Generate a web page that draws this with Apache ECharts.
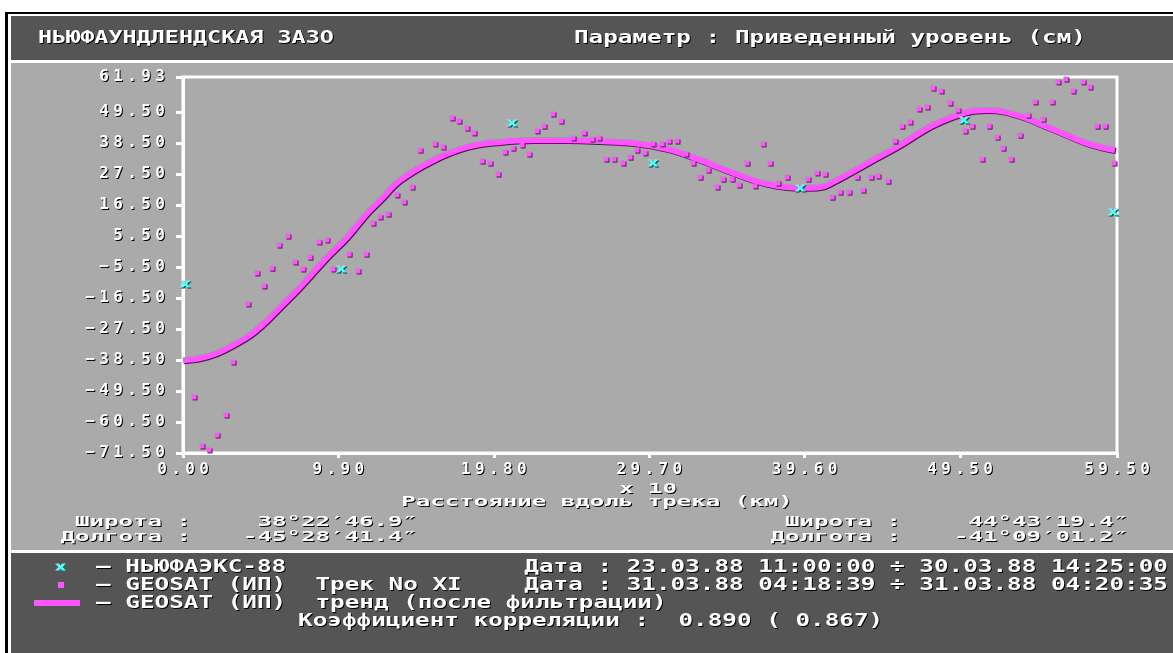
<!DOCTYPE html>
<html>
<head>
<meta charset="utf-8">
<script src="https://cdn.jsdelivr.net/npm/echarts@6/dist/echarts.min.js"></script>
<style>
  body { margin: 0; background: #fff; }
  #chart { width: 1173px; height: 653px; }
</style>
</head>
<body>
<div id="chart"></div>
<script>
// trend after filtering (x10 km, cm)
var trendDist = [0, 1.1, 2.17, 3.19, 4.27, 5.35, 6.18, 7.45, 9.17, 10.44, 11.72, 12.55, 13.82, 15.93, 18.09, 20.19, 22.3, 24.46, 26.57, 28.67,
  30.83, 32.94, 35.04, 37.2, 39.31, 40.58, 41.41, 43.58, 45.68, 47.78, 49.95, 51.22, 53.13, 55.23, 57.34, 58.42, 59.37];
var trendLevel = [-38.6, -37.8, -36.0, -33.2, -29.6, -24.4, -19.7, -12.6, -2.0, 5.1, 13.6, 18.2, 25.3, 32.4, 37.1, 38.9, 39.6, 39.6, 39.2, 38.5,
  36.4, 32.5, 27.9, 24.0, 22.6, 22.9, 24.7, 31.4, 37.8, 44.9, 49.5, 50.2, 48.4, 43.8, 38.9, 37.1, 36.0];

// GEOSAT track XI samples
var pointDist = [0.70, 1.21, 1.66, 2.17, 2.74, 3.19, 4.14, 4.71, 5.16, 5.67,
  6.12, 6.69, 7.14, 7.64, 8.09, 8.66, 9.17, 9.56, 10.58, 11.15,
  11.66, 12.10, 12.55, 13.06, 13.63, 14.08, 14.59, 15.10, 16.05, 16.56,
  17.14, 17.58, 18.09, 18.54, 19.05, 19.56, 20.07, 20.51, 21.02, 21.60,
  22.04, 22.55, 23.00, 23.57, 24.08, 24.85, 25.55, 26.06, 26.50, 26.95,
  27.46, 28.03, 28.48, 28.92, 29.43, 29.94, 30.52, 30.96, 31.47, 32.04,
  32.49, 32.94, 33.45, 34.02, 34.40, 34.98, 35.42, 35.93, 36.44, 36.95,
  37.40, 37.91, 38.48, 39.82, 40.39, 40.90, 41.35, 41.86, 42.43, 42.94,
  43.32, 43.83, 44.28, 44.91, 45.36, 45.80, 46.31, 46.89, 47.40, 47.78,
  48.29, 48.86, 49.37, 49.82, 50.26, 50.90, 51.35, 51.86, 52.24, 52.75,
  53.32, 53.83, 54.28, 54.79, 55.36, 55.74, 56.25, 56.70, 57.34, 57.78,
  58.23, 58.74, 59.31];
var pointLevel = [-51.6, -69.0, -70.4, -65.1, -58.0, -39.2, -18.6, -7.6, -12.2, -5.9,
  2.3, 5.5, -3.7, -6.2, -2.0, 3.4, 4.1, -6.2, -0.9, -6.9,
  -0.9, 10.1, 12.3, 13.3, 20.1, 17.6, 22.9, 36.0, 38.2, 37.1,
  47.4, 46.3, 43.8, 42.1, 32.1, 31.4, 27.5, 35.3, 36.7, 37.8,
  34.6, 42.8, 44.5, 48.8, 46.3, 40.3, 42.1, 39.9, 40.3, 32.8,
  32.8, 31.4, 33.5, 36.0, 35.0, 38.2, 38.2, 39.2, 39.2, 34.6,
  31.4, 26.4, 28.9, 22.9, 25.7, 25.7, 23.6, 31.4, 23.3, 38.2,
  31.4, 24.3, 26.4, 25.7, 27.9, 27.5, 19.3, 21.1, 21.1, 26.4,
  21.8, 26.4, 26.8, 25.0, 39.2, 44.5, 46.0, 50.6, 51.3, 58.0,
  57.0, 52.7, 50.2, 42.8, 44.5, 32.8, 44.5, 40.6, 36.7, 32.8,
  41.3, 48.4, 53.1, 47.0, 53.1, 60.2, 61.2, 57.0, 60.2, 58.4,
  44.5, 44.5, 31.4];

// НЬЮФАЭКС-88 ship stations
var shipDist = [0.13, 10.07, 20.96, 29.94, 39.31, 49.75, 59.25];
var shipLevel = [-11.5, -6.2, 45.6, 31.4, 22.5, 46.7, 14.0];

var xTicks = [0, 9.9, 19.8, 29.7, 39.6, 49.5, 59.5];
var yTicks = [-71.5, -60.5, -49.5, -38.5, -27.5, -16.5, -5.5, 5.5, 16.5, 27.5, 38.5, 49.5, 61.93];

var MONO = 'DejaVu Sans Mono';
var MAGENTA = '#ff55ff', CYAN = '#55ffff';
var CROSS = 'path://M0 0H4L5.5 2L7 0H11L7.5 3.5L11 7H7L5.5 5L4 7H0L3.5 3.5Z';
var crossPts = [[0, 0], [4, 0], [5.5, 2], [7, 0], [11, 0], [7.5, 3.5], [11, 7], [7, 7], [5.5, 5], [4, 7], [0, 7], [3.5, 3.5]];

function pairs(xs, ys) {
  return xs.map(function (x, i) { return [x, ys[i]]; });
}

// every char in its own fixed cell, like the old bitmap font
function cells(v) {
  return v.toFixed(2).replace('-', '\u2212').split('').map(function (ch) {
    return '{c|' + ch + '}';
  }).join('');
}

var cellStyle = {
  width: 14, align: 'center', color: '#fff',
  fontFamily: MONO, fontWeight: 'bold', fontSize: 16,
  textShadowColor: '#000', textShadowBlur: 0.5, textShadowOffsetX: 1, textShadowOffsetY: 1
};

function txt(text, x, y, opt) {
  opt = opt || {};
  var size = opt.size || 18;
  var align = opt.align || 'left';
  return {
    type: 'text', x: x, y: y, z: 100,
    scaleX: opt.sx || 1.35,
    style: {
      text: text,
      font: 'bold ' + size + 'px "' + MONO + '"',
      fill: opt.color || '#fff',
      align: align, textAlign: align,
      verticalAlign: 'middle', textVerticalAlign: 'middle',
      textShadowColor: '#000', textShadowBlur: 0.5, textShadowOffsetX: 1, textShadowOffsetY: 1
    }
  };
}

function box(x, y, w, h, fill, z) {
  return { type: 'rect', z: z || -100, shape: { x: x, y: y, width: w, height: h }, style: { fill: fill } };
}

var rows = [567, 585, 603, 621];
var sm = function (align) { return { size: 14, sx: 1.72, align: align }; };

var graphics = [
  box(5, 12, 1200, 700, '#000'),
  box(8, 14, 1200, 700, '#fff'),
  box(11, 16, 1200, 44, '#555555'),
  box(11, 63, 1200, 487, '#aaaaaa'),
  box(11, 553, 1200, 120, '#555555'),

  txt('НЬЮФАУНДЛЕНДСКАЯ ЗАЗО', 38, 38, { sx: 1.3 }),
  txt('Параметр : Приведенный уровень (см)', 1086, 38, { align: 'right' }),

  txt('x 10', 648, 489, sm('center')),
  txt('Расстояние вдоль трека (км)', 597, 502, sm('center')),
  txt('Широта :', 191, 522, sm('right')),
  txt('38°22′46.9″', 417, 522, sm('right')),
  txt('Долгота :', 191, 537, sm('right')),
  txt('-45°28′41.4″', 417, 537, sm('right')),
  txt('Широта :', 901, 522, sm('right')),
  txt('44°43′19.4″', 1128, 522, sm('right')),
  txt('Долгота :', 901, 537, sm('right')),
  txt('-41°09′01.2″', 1128, 537, sm('right')),

  // legend keys
  { type: 'polygon', z: 100, x: 55, y: rows[0] - 3.5, shape: { points: crossPts }, style: { fill: CYAN } },
  box(58, rows[1] - 3, 6, 6, MAGENTA, 100),
  box(34, rows[2] - 3, 46, 6, MAGENTA, 100),

  txt('— НЬЮФАЭКС-88', 96, rows[0]),
  txt('Дата : 23.03.88 11:00:00 ÷ 30.03.88 14:25:00', 1168, rows[0], { align: 'right' }),
  txt('— GEOSAT (ИП)  Трек No XI', 96, rows[1]),
  txt('Дата : 31.03.88 04:18:39 ÷ 31.03.88 04:20:35', 1168, rows[1], { align: 'right' }),
  txt('— GEOSAT (ИП)  тренд (после фильтрации)', 96, rows[2]),
  txt('Коэффициент корреляции :  0.890 ( 0.867)', 298, rows[3])
];

var shadow = { shadowColor: '#303030', shadowOffsetX: 1, shadowOffsetY: 1, shadowBlur: 0 };

var option = {
  animation: false,
  backgroundColor: '#fff',
  grid: {
    left: 183, top: 77, width: 934, height: 376,
    show: true, borderColor: '#fff', borderWidth: 3, backgroundColor: 'transparent'
  },
  xAxis: {
    type: 'value', min: 0, max: 59.5,
    axisLine: { onZero: false, lineStyle: { color: '#fff', width: 3 } },
    axisTick: { show: true, customValues: xTicks, length: 5, lineStyle: { color: '#fff', width: 3 } },
    axisLabel: { customValues: xTicks, formatter: cells, margin: 9, rich: { c: cellStyle } },
    splitLine: { show: false }
  },
  yAxis: {
    type: 'value', min: -71.5, max: 61.93,
    axisLine: { onZero: false, lineStyle: { color: '#fff', width: 3 } },
    axisTick: { show: true, customValues: yTicks, length: 7, lineStyle: { color: '#fff', width: 3 } },
    axisLabel: { customValues: yTicks, formatter: cells, margin: 16, rich: { c: cellStyle } },
    splitLine: { show: false }
  },
  graphic: { elements: graphics },
  series: [
    {
      name: 'тренд', type: 'line', z: 2,
      data: pairs(trendDist, trendLevel),
      smooth: 0.4, showSymbol: false,
      lineStyle: Object.assign({ color: MAGENTA, width: 6 }, shadow)
    },
    {
      name: 'GEOSAT', type: 'scatter', z: 3, clip: false,
      data: pairs(pointDist, pointLevel),
      symbol: 'rect', symbolSize: 5,
      itemStyle: Object.assign({ color: MAGENTA, opacity: 1 }, shadow)
    },
    {
      name: 'НЬЮФАЭКС-88', type: 'scatter', z: 4, clip: false,
      data: pairs(shipDist, shipLevel),
      symbol: CROSS, symbolSize: [11, 7],
      itemStyle: Object.assign({ color: CYAN, opacity: 1 }, shadow)
    }
  ]
};

var chart = echarts.init(document.getElementById('chart'));
chart.setOption(option);
</script>
</body>
</html>
